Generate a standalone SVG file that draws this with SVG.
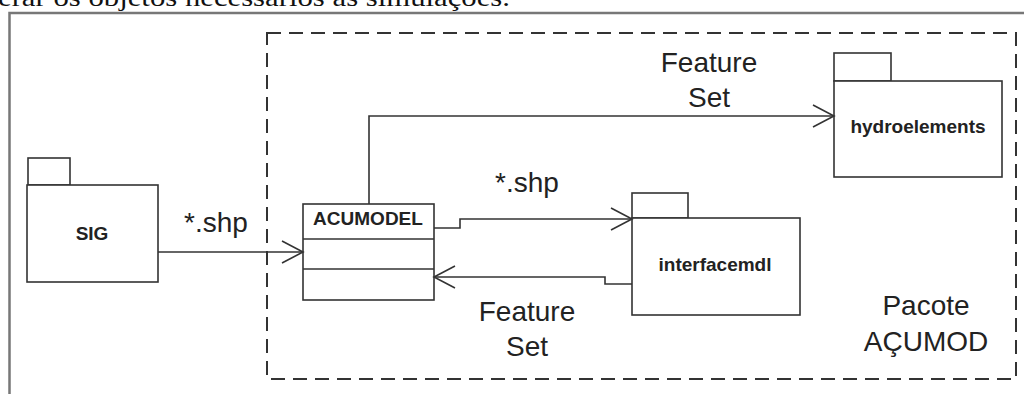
<svg xmlns="http://www.w3.org/2000/svg" width="1024" height="394" viewBox="0 0 1024 394">
<style>
.shape{fill:#fff;stroke:#333;stroke-width:1.6}
.conn{fill:none;stroke:#333;stroke-width:1.6}
.lbl{font-family:"Liberation Sans",Arial,sans-serif;font-size:28px;fill:#222;text-anchor:middle}
.name{font-family:"Liberation Sans",Arial,sans-serif;font-size:19px;font-weight:bold;fill:#222;text-anchor:middle}
</style>
<defs>
<marker id="open" viewBox="0 0 24 24" refX="22" refY="12" markerWidth="24" markerHeight="24" markerUnits="userSpaceOnUse" orient="auto">
<path d="M1,1 L22,12 L1,23" fill="none" stroke="#333" stroke-width="1.6"/>
</marker>
</defs>
<rect width="1024" height="394" fill="#fff"/>
<text x="-2" y="6" font-family="Liberation Serif,'Times New Roman',serif" font-size="26" fill="#111" textLength="512" lengthAdjust="spacingAndGlyphs">erar os objetos necessários às simulações.</text>
<path d="M9.5,394 V13 H1024" fill="none" stroke="#777" stroke-width="2.5"/>
<g id="pacote">
<rect x="267" y="33" width="749" height="346" fill="none" stroke="#333" stroke-width="2" stroke-dasharray="14 8"/>
<text class="lbl" x="926" y="315">Pacote</text>
<text class="lbl" x="926" y="351">AÇUMOD</text>
</g>
<g id="sig">
<rect class="shape" x="28" y="158" width="42" height="27"/>
<rect class="shape" x="27" y="185" width="131" height="97"/>
<text class="name" x="92" y="240">SIG</text>
</g>
<g id="acumodel">
<rect class="shape" x="303" y="204" width="131" height="96"/>
<line class="conn" x1="303" y1="239" x2="434" y2="239"/>
<line class="conn" x1="303" y1="269" x2="434" y2="269"/>
<text class="name" x="368" y="225">ACUMODEL</text>
</g>
<g id="hydroelements">
<rect class="shape" x="834" y="53" width="57" height="28"/>
<rect class="shape" x="834" y="81" width="168" height="96"/>
<text class="name" x="918" y="133">hydroelements</text>
</g>
<g id="interfacemdl">
<rect class="shape" x="632" y="193" width="56" height="25"/>
<rect class="shape" x="632" y="218" width="168" height="97"/>
<text class="name" x="715" y="271">interfacemdl</text>
</g>
<g id="connectors">
<path class="conn" d="M158,252 H303" marker-end="url(#open)"/>
<path class="conn" d="M369,204 V116 H834" marker-end="url(#open)"/>
<path class="conn" d="M434,228 H460 V219 H632" marker-end="url(#open)"/>
<path class="conn" d="M632,284 H605 V277 H434" marker-end="url(#open)"/>
<text class="lbl" x="216" y="232">*.shp</text>
<text class="lbl" x="527" y="192">*.shp</text>
<text class="lbl" x="709" y="72">Feature</text>
<text class="lbl" x="709" y="107">Set</text>
<text class="lbl" x="527" y="321">Feature</text>
<text class="lbl" x="527" y="356">Set</text>
</g>
</svg>
